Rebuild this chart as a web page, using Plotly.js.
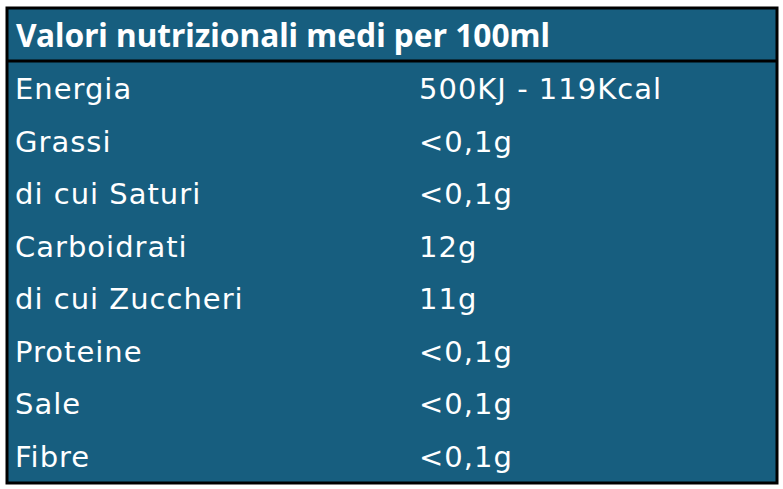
<!DOCTYPE html>
<html><head><meta charset="utf-8">
<script src="https://cdn.plot.ly/plotly-3.0.1.min.js"></script>
<style>
html,body{margin:0;padding:0;background:#fff}
#chart{width:783px;height:489px}
#chart .table text{letter-spacing:1px}
</style>
</head><body><div id="chart"></div>
<script>
var headerText = "Valori nutrizionali medi per 100ml";
var nutrients = ["Energia","Grassi","di cui Saturi","Carboidrati","di cui Zuccheri","Proteine","Sale","Fibre"];
var values = ["500KJ - 119Kcal","<0,1g","<0,1g","12g","11g","<0,1g","<0,1g","<0,1g"];

function esc(s){ return s.replace(/&/g,"&amp;").replace(/</g,"&lt;").replace(/>/g,"&gt;"); }
function cell(s){ return "<span>" + esc(s).replace(/ /g, "\u00a0") + "</span>"; }

var fill = "#175e7f";
var FONT = "'DejaVu Sans', 'Noto Sans', sans-serif";
var HFONT = "'Noto Sans', 'Open Sans', sans-serif";
var x0 = 7/783, x1 = 777/783;
var trace = {
  type: "table",
  domain: {x: [x0, x1], y: [0, 1 - 8/489]},
  columnwidth: [404, 366],
  header: {
    values: ["", ""],
    align: "left",
    height: 56,
    fill: {color: fill},
    line: {color: fill, width: 1},
    font: {family: FONT, size: 26, color: "#ffffff"}
  },
  cells: {
    values: [nutrients.map(cell), values.map(cell)],
    align: "left",
    height: 52.5,
    fill: {color: fill},
    line: {color: fill, width: 1},
    font: {family: FONT, size: 29, color: "#ffffff"}
  }
};
var layout = {
  width: 783, height: 489,
  margin: {l: 0, r: 0, t: 0, b: 0},
  paper_bgcolor: "#ffffff",
  annotations: [
    {text: "<b>" + esc(headerText) + "</b>", xref: "paper", yref: "paper", x: 14/783, y: 1 - 35/489,
     xanchor: "left", yanchor: "middle", showarrow: false,
     font: {family: HFONT, size: 31.7, color: "#ffffff"}}
  ],
  shapes: [
    {type: "rect", xref: "paper", yref: "paper", x0: 0, x1: 1, y0: 0, y1: 1 - 484/489,
     fillcolor: "#ffffff", line: {width: 0}},
    {type: "rect", xref: "paper", yref: "paper", x0: x0, x1: x1, y0: 1 - 483/489, y1: 1 - 8/489,
     line: {color: "#000000", width: 3}},
    {type: "line", xref: "paper", yref: "paper", x0: x0, x1: x1, y0: 1 - 61/489, y1: 1 - 61/489,
     line: {color: "#000000", width: 3}}
  ]
};
Plotly.newPlot("chart", [trace], layout, {displayModeBar: false, staticPlot: true});
</script></body></html>
